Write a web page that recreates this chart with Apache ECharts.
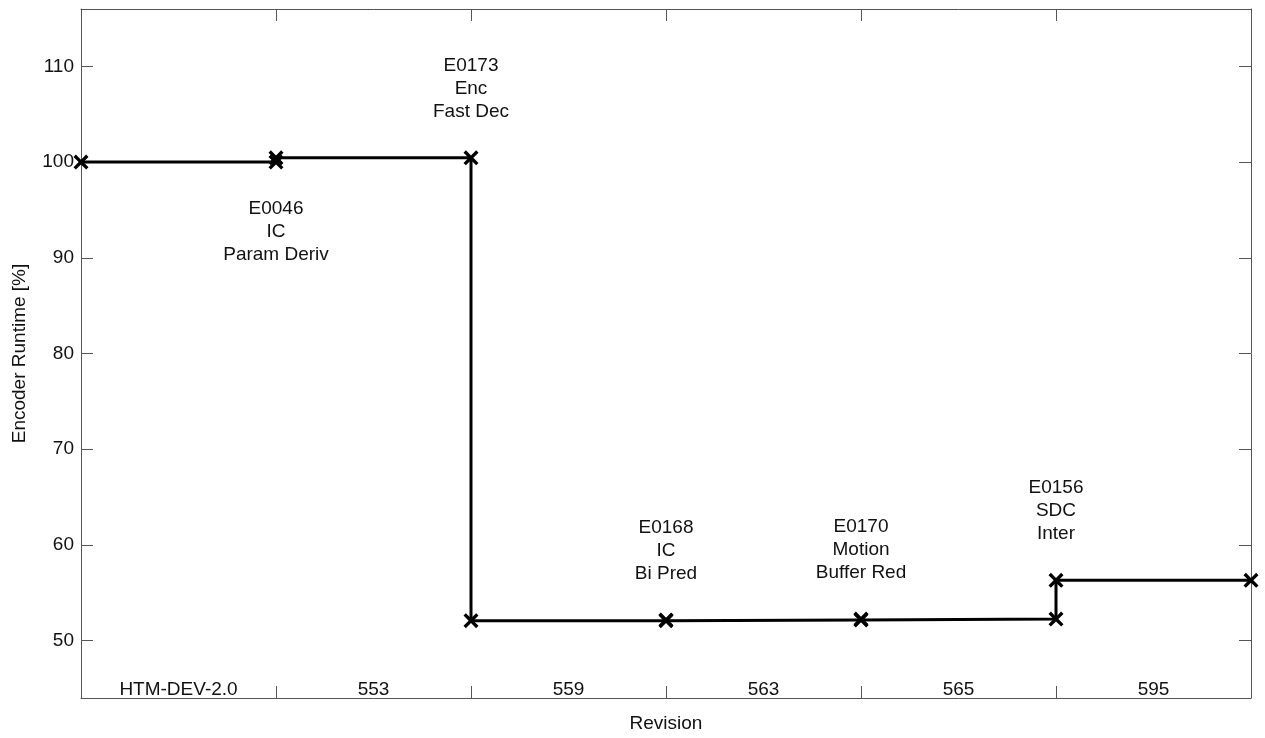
<!DOCTYPE html>
<html>
<head>
<meta charset="utf-8">
<script src="https://cdn.jsdelivr.net/npm/echarts@6/dist/echarts.min.js"></script>
<style>html,body{margin:0;padding:0;background:#fff;}#chart{width:1265px;height:738px;}</style>
</head>
<body>
<div id="chart"></div>
<script>
// ---- data ----
const revisions = ['HTM-DEV-2.0', '553', '559', '563', '565', '595'];
const runtime = [100, 100.45, 52.08, 52.15, 52.25, 56.3];
const proposals = ['E0046\nIC\nParam Deriv', 'E0173\nEnc\nFast Dec', 'E0168\nIC\nBi Pred', 'E0170\nMotion\nBuffer Red', 'E0156\nSDC\nInter'];
const proposalAt = [1, 2, 3, 4, 5];
const proposalSide = ['bottom', 'top', 'top', 'top', 'top'];
const yTicks = [50, 60, 70, 80, 90, 100, 110];

// ---- build ----
const stepData = [];
runtime.forEach((v, i) => { stepData.push([i, v]); stepData.push([i + 1, v]); });
const annData = proposalAt.map((x, k) => ({
  value: [x, Math.max(runtime[x - 1], runtime[x])],
  label: {
    formatter: proposals[k],
    position: proposalSide[k],
    distance: proposalSide[k] === 'top' ? 35 : 39
  }
}));

const FONT = '"Liberation Sans", Arial, Helvetica, sans-serif';
const AX = '#555';
const TXT = '#111';
const FS = 19;
const xSym = 'path://M0,2.2L2.2,0L7,4.8L11.8,0L14,2.2L9.2,7L14,11.8L11.8,14L7,9.2L2.2,14L0,11.8L4.8,7Z';

const chart = echarts.init(document.getElementById('chart'), null, { renderer: 'canvas' });
chart.setOption({
  animation: false,
  backgroundColor: '#fff',
  textStyle: { fontFamily: FONT },
  grid: { left: 81, right: 14, top: 9, bottom: 38, containLabel: false },
  xAxis: [
    {
      type: 'category', data: revisions, position: 'bottom', boundaryGap: true,
      axisLine: { show: true, lineStyle: { color: AX, width: 1 } },
      axisTick: { show: true, inside: true, length: 12, interval: 0, alignWithLabel: false, lineStyle: { color: AX } },
      axisLabel: { show: true, inside: true, margin: -1, interval: 0, color: TXT, fontSize: FS, fontFamily: FONT },
      splitLine: { show: false },
      name: 'Revision', nameLocation: 'middle', nameGap: 16,
      nameTextStyle: { color: TXT, fontSize: FS, fontFamily: FONT, verticalAlign: 'top' }
    },
    {
      type: 'category', data: revisions, position: 'top', boundaryGap: true,
      axisLine: { show: true, lineStyle: { color: AX, width: 1 } },
      axisTick: { show: true, inside: true, length: 12, interval: 0, alignWithLabel: false, lineStyle: { color: AX } },
      axisLabel: { show: false },
      splitLine: { show: false }
    },
    { type: 'value', min: 0, max: revisions.length, show: false }
  ],
  yAxis: [
    {
      type: 'value', min: 44, max: 116, position: 'left',
      axisLine: { show: true, lineStyle: { color: AX, width: 1 } },
      axisTick: { show: true, inside: true, length: 12, customValues: yTicks, lineStyle: { color: AX } },
      axisLabel: { show: true, margin: 7, customValues: yTicks, color: TXT, fontSize: FS, fontFamily: FONT },
      splitLine: { show: false },
      name: 'Encoder Runtime [%]', nameLocation: 'middle', nameGap: 52, nameRotate: 90,
      nameTextStyle: { color: TXT, fontSize: FS, fontFamily: FONT }
    },
    {
      type: 'value', min: 44, max: 116, position: 'right',
      axisLine: { show: true, lineStyle: { color: AX, width: 1 } },
      axisTick: { show: true, inside: true, length: 12, customValues: yTicks, lineStyle: { color: AX } },
      axisLabel: { show: false },
      splitLine: { show: false }
    }
  ],
  series: [
    {
      type: 'line', xAxisIndex: 2, yAxisIndex: 0, data: stepData,
      clip: false, showSymbol: true, showAllSymbol: true,
      symbol: xSym, symbolSize: 15,
      lineStyle: { color: '#000', width: 3 },
      itemStyle: { color: '#000' },
      emphasis: { disabled: true },
      silent: true, z: 5
    },
    {
      type: 'scatter', xAxisIndex: 2, yAxisIndex: 0, data: annData,
      symbol: 'circle', symbolSize: 0, itemStyle: { color: '#000', opacity: 1 },
      label: { show: true, color: TXT, opacity: 1, fontSize: FS, fontFamily: FONT, lineHeight: 23, align: 'center' },
      emphasis: { disabled: true }, silent: true, clip: false, z: 6
    }
  ]
});
</script>
</body>
</html>
